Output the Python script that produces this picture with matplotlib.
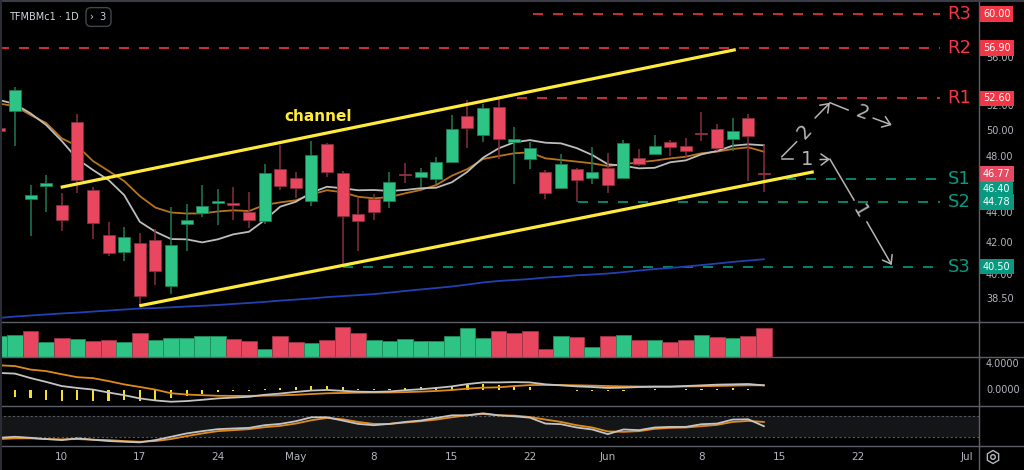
import numpy as np
import matplotlib.pyplot as plt
from matplotlib.lines import Line2D
from matplotlib.patches import RegularPolygon, Circle
from matplotlib.transforms import blended_transform_factory, IdentityTransform

plt.rcParams['font.family'] = ['DejaVu Sans']

# ---- daily candles (index 0 = Apr 5), last candle = Jun 13
opens = [50.26, 51.58, 44.96, 45.90, 44.57, 50.70, 45.64, 42.53, 41.44, 41.99,
         42.21, 39.31, 43.25, 44.04, 44.71, 44.73, 44.08, 43.49, 47.15, 46.45,
         44.87, 49.00, 46.84, 43.97, 45.00, 44.87, 46.73, 46.57, 46.40, 47.63,
         51.18, 49.69, 51.88, 49.15, 47.87, 46.89, 45.74, 47.11, 46.45, 47.22,
         46.50, 47.97, 48.24, 49.17, 48.85, 49.87, 50.16, 49.36, 51.00, 46.80]
highs = [50.31, 53.57, 45.97, 46.69, 45.43, 51.32, 45.85, 43.38, 43.05, 42.65,
         42.93, 44.45, 44.61, 45.97, 45.69, 45.83, 45.50, 47.48, 48.92, 46.89,
         49.23, 49.08, 47.00, 45.03, 45.36, 46.89, 47.59, 47.18, 48.04, 51.26,
         52.47, 52.12, 52.55, 50.29, 49.17, 47.06, 48.24, 47.17, 48.79, 48.30,
         49.30, 48.62, 49.69, 49.30, 49.43, 51.48, 50.52, 51.00, 51.34, 48.92]
lows = [49.92, 48.85, 42.47, 44.10, 42.80, 45.43, 42.25, 41.19, 40.85, 38.10,
        39.35, 38.79, 41.51, 43.76, 43.20, 43.53, 42.98, 43.25, 45.62, 45.03,
        44.47, 46.53, 40.50, 41.49, 43.53, 44.38, 46.14, 45.85, 46.02, 47.55,
        48.72, 49.17, 47.87, 46.04, 47.11, 44.98, 45.70, 44.78, 46.04, 45.38,
        46.45, 47.37, 48.20, 48.12, 48.04, 49.25, 48.47, 48.47, 46.26, 45.50]
closes = [50.00, 53.29, 45.26, 46.14, 43.55, 46.33, 43.33, 41.34, 42.38, 38.70,
          40.22, 41.88, 43.55, 44.50, 44.87, 44.59, 43.53, 46.84, 45.92, 45.74,
          48.15, 46.89, 43.83, 43.49, 44.08, 46.21, 46.66, 46.89, 47.63, 50.16,
          50.21, 51.80, 49.38, 49.36, 48.67, 45.38, 47.48, 46.33, 46.89, 45.97,
          49.05, 47.52, 48.82, 48.75, 48.45, 49.77, 48.72, 50.00, 49.64, 46.77]
volume = [20.7, 21.7, 26.0, 14.7, 18.7, 18.0, 16.0, 16.7, 14.7, 23.4,
          16.7, 19.0, 19.0, 20.4, 20.7, 17.7, 16.0, 7.4, 20.4, 14.7,
          13.7, 16.7, 29.4, 23.4, 16.7, 16.0, 17.4, 15.4, 15.4, 20.7,
          28.7, 19.0, 25.7, 24.0, 25.4, 7.4, 20.7, 20.0, 9.4, 20.7,
          21.7, 16.7, 16.7, 14.7, 16.7, 21.7, 19.4, 18.7, 20.7, 28.7]

ma_fast = [52.47, 52.14, 51.39, 50.47, 49.23, 47.87, 47.06, 46.33, 45.26, 43.42,
           42.75, 42.27, 42.25, 42.05, 42.25, 42.58, 42.75, 43.53, 44.45, 44.79,
           45.43, 45.85, 45.74, 45.60, 45.62, 45.55, 45.62, 45.74, 45.78, 46.17,
           46.93, 47.97, 48.67, 49.13, 49.30, 49.10, 49.05, 48.69, 48.17, 47.48,
           47.37, 47.18, 47.22, 47.63, 47.77, 48.22, 48.47, 48.87, 48.98, 48.90]
ma_slow = [52.17, 51.98, 51.26, 50.63, 49.43, 48.85, 47.72, 46.99, 46.26, 45.19,
           44.39, 44.05, 43.98, 43.99, 44.12, 44.20, 44.15, 44.57, 44.75, 44.89,
           45.31, 45.60, 45.46, 45.14, 45.03, 45.12, 45.38, 45.62, 45.97, 46.64,
           47.13, 47.87, 48.09, 48.30, 48.37, 47.92, 47.80, 47.68, 47.55, 47.35,
           47.48, 47.63, 47.75, 47.92, 48.04, 48.30, 48.42, 48.62, 48.75, 48.42]
ma_200 = [37.39, 37.47, 37.53, 37.59, 37.65, 37.70, 37.76, 37.82, 37.88, 37.94,
          37.97, 38.01, 38.06, 38.10, 38.15, 38.21, 38.27, 38.33, 38.41, 38.47,
          38.54, 38.62, 38.68, 38.74, 38.80, 38.89, 38.99, 39.08, 39.17, 39.26,
          39.38, 39.51, 39.60, 39.66, 39.72, 39.81, 39.87, 39.95, 40.00, 40.06,
          40.15, 40.25, 40.34, 40.41, 40.50, 40.59, 40.69, 40.79, 40.88, 40.96]

macd = [2.60, 2.50, 1.80, 1.20, 0.55, 0.25, 0.00, -0.46, -0.88, -1.38,
        -1.70, -1.90, -1.80, -1.60, -1.38, -1.25, -1.13, -0.82, -0.62, -0.37,
        -0.15, -0.06, -0.20, -0.33, -0.37, -0.30, -0.10, 0.05, 0.25, 0.50,
        0.86, 1.12, 1.12, 1.17, 1.12, 0.82, 0.66, 0.50, 0.40, 0.25,
        0.30, 0.40, 0.45, 0.45, 0.56, 0.66, 0.77, 0.82, 0.87, 0.66]
signal = [3.80, 3.68, 3.13, 2.89, 2.40, 1.94, 1.79, 1.33, 0.81, 0.41,
          -0.01, -0.57, -0.77, -0.88, -0.97, -0.99, -0.98, -0.95, -0.90, -0.82,
          -0.70, -0.58, -0.53, -0.48, -0.46, -0.45, -0.40, -0.32, -0.22, -0.07,
          0.14, 0.30, 0.35, 0.55, 0.70, 0.72, 0.71, 0.67, 0.62, 0.55,
          0.50, 0.48, 0.47, 0.47, 0.49, 0.52, 0.57, 0.62, 0.67, 0.67]
hist = [-1.20, -1.18, -1.33, -1.69, -1.85, -1.69, -1.79, -1.79, -1.69, -1.79,
        -1.69, -1.33, -1.03, -0.72, -0.41, -0.26, -0.15, 0.13, 0.30, 0.36,
        0.50, 0.50, 0.36, 0.15, 0.10, 0.15, 0.30, 0.36, 0.46, 0.56,
        0.72, 0.82, 0.77, 0.55, 0.40, -0.10, -0.05, -0.17, -0.22, -0.30,
        -0.15, -0.06, 0.05, -0.04, 0.06, 0.12, 0.14, 0.17, 0.15, -0.08]

stoch_k = [17.1, 20.0, 17.0, 13.3, 10.4, 15.4, 11.4, 7.5, 5.5, 3.6,
           10.4, 20.0, 29.8, 36.5, 42.3, 44.3, 46.1, 53.9, 57.7, 65.5,
           77.1, 77.1, 67.5, 57.7, 53.9, 57.7, 63.5, 67.5, 75.1, 82.9,
           82.9, 88.7, 82.9, 80.0, 76.1, 58.7, 56.8, 47.2, 41.4, 27.8,
           41.4, 39.4, 47.2, 49.0, 49.0, 56.8, 58.7, 70.4, 71.3, 51.0]
stoch_d = [13.3, 15.4, 15.4, 13.3, 12.4, 13.3, 11.4, 10.4, 7.5, 5.5,
           7.5, 13.3, 22.0, 29.8, 36.5, 39.4, 42.3, 48.1, 51.9, 58.7,
           68.4, 75.1, 71.3, 63.5, 57.7, 57.7, 61.6, 65.5, 70.4, 77.1,
           82.9, 86.7, 82.9, 82.0, 78.0, 70.4, 63.5, 53.9, 47.2, 35.6,
           34.5, 36.5, 43.2, 46.1, 47.2, 51.0, 54.8, 63.5, 66.4, 63.5]

levels = {'R3': 60.00, 'R2': 56.90, 'R1': 52.60, 'S1': 46.40, 'S2': 44.78, 'S3': 40.50}
level_start = {'R3': 33.2, 'R2': -1.0, 'R1': 32.2, 'S1': 49.4, 'S2': 36.1, 'S3': 21.0}
price_ticks = [56, 52, 50, 48, 44, 42, 40, 38.5]
date_pos = [3, 8, 13, 18, 23, 28, 33, 38, 44, 49, 54, 61]
date_labels = ['10', '17', '24', 'May', '8', '15', '22', 'Jun', '8', '15', '22', 'Jul']

# channel drawn between (index, price) points
chan_upper = [(2.93, 45.81), (46.2, 56.75)]
chan_lower = [(7.97, 38.10), (51.2, 46.93)]

idx = np.arange(-1, len(opens) - 1)
o, h, l, c = map(np.array, (opens, highs, lows, closes))
up = c >= o

GREEN, RED = '#2ec486', '#e9465f'
GREEN_D, RED_D = '#1d7a55', '#86303f'
TEAL, LRED = '#089981', '#f23645'
YELLOW = '#ffeb3b'
GRID = '#5d606b'
TXT = '#b2b5be'

W, H = 1024, 470
XR = 979
fig = plt.figure(figsize=(W / 100, H / 100), dpi=100, facecolor='black')


def pane(top, bottom):
    a = fig.add_axes([0, 1 - bottom / H, XR / W, (bottom - top) / H])
    a.set_facecolor('black')
    a.set_xlim(-0.96, 61.79)
    for s in a.spines.values():
        s.set_visible(False)
    a.set_xticks([])
    a.set_yticks([])
    return a


ax = pane(0, 321.7)
axv = pane(322.5, 356.7)
axm = pane(357.5, 406)
axs = pane(406.5, 446)

# ---------------- price pane
ax.set_yscale('log')
ax.set_ylim(37.17, 61.30)
ax.set_yticks([])
ax.set_yticks([], minor=True)

for name, val in levels.items():
    col = LRED if name[0] == 'R' else TEAL
    ax.hlines(val, level_start[name], 59.3, colors=col, lw=1.2,
              linestyles=(0, (6, 6)), zorder=1)
    ax.text(60.5, val, name, color=col, fontsize=13, ha='center', va='center')

ax.plot(idx, ma_200, color='#2340b0', lw=1.3, zorder=2)
ax.plot(idx, ma_slow, color='#b8741a', lw=1.3, zorder=2)
ax.plot(idx, ma_fast, color='#bdbdbd', lw=1.3, zorder=2)

ax.vlines(idx, l, h, colors=np.where(up, GREEN_D, RED_D), lw=1.1, zorder=3)
body_lo = np.minimum(o, c)
body_h = np.maximum(np.abs(c - o), 0.09)
ax.bar(idx, body_h, bottom=body_lo, width=0.77, color=np.where(up, GREEN, RED),
       edgecolor=np.where(up, GREEN_D, RED_D), lw=0.6, zorder=4)

for seg in (chan_upper, chan_lower):
    xs, ys = zip(*seg)
    ax.plot(xs, ys, color=YELLOW, lw=2.3, solid_capstyle='butt', zorder=5)
ax.text(19.4, 51.18, 'channel', color=YELLOW, fontsize=11, fontweight='bold',
        ha='center', va='center', zorder=6)

# hand drawn scenarios
ANN = '#b5b5b5'
arw = dict(arrowstyle='->,head_length=0.55,head_width=0.4', color=ANN, lw=1.1,
           shrinkA=0, shrinkB=0)
ax.plot([49.15, 50.1], [48.04, 49.17], color=ANN, lw=1.1)
ax.text(50.64, 49.95, '2', color=ANN, fontsize=14, rotation=48, ha='center', va='center')
ax.annotate('', xy=(52.24, 52.25), xytext=(51.28, 51.02), arrowprops=arw)
ax.plot([52.24, 53.4], [52.25, 51.66], color=ANN, lw=1.1)
ax.text(54.28, 51.39, '2', color=ANN, fontsize=14, rotation=-20, ha='center', va='center')
ax.annotate('', xy=(56.2, 50.47), xytext=(55.0, 51.02), arrowprops=arw)
ax.plot([49.15, 49.87], [47.85, 47.85], color=ANN, lw=1.1)
ax.text(50.75, 47.80, '1', color=ANN, fontsize=14, ha='center', va='center')
ax.annotate('', xy=(52.24, 47.85), xytext=(51.6, 47.83), arrowprops=arw)
ax.plot([52.24, 53.78], [47.85, 44.91], color=ANN, lw=1.1)
ax.text(54.17, 44.10, '1', color=ANN, fontsize=14, rotation=-60, ha='center', va='center')
ax.annotate('', xy=(56.2, 40.59), xytext=(54.6, 43.42), arrowprops=arw)

# right price scale
T = blended_transform_factory(ax.transAxes, ax.transData)
for p in price_ticks:
    ax.text(986 / XR, p, f'{p:.2f}', transform=T, color=TXT, fontsize=7,
            ha='left', va='center', zorder=7)


def tag(val, col, dy=0):
    ax.annotate(f'{val:.2f}', xy=(983 / XR, val), xycoords=T, xytext=(0, dy),
                textcoords='offset points', color='white', fontsize=7,
                ha='left', va='center', zorder=9, annotation_clip=False,
                bbox=dict(boxstyle='square,pad=0.3', fc=col, ec='none'))


for name in ('R3', 'R2', 'R1'):
    tag(levels[name], LRED)
tag(levels['S3'], TEAL)
tag(levels['S2'], TEAL)
tag(levels['S1'], TEAL, dy=-6.8)
tag(closes[-1], '#e54a62')

# ---------------- volume pane
prev = np.concatenate([[c[0] - 1], c[:-1]])
vup = c >= prev
axv.bar(idx, volume, width=1.0, color=np.where(vup, GREEN, RED),
        edgecolor=np.where(vup, '#1f8a5c', '#9c3347'), lw=0.6)
axv.set_ylim(0, 34.2)

# ---------------- MACD pane
axm.set_ylim(-2.57, 5.02)
axm.bar(idx, hist, width=0.14, color='#f5e027')
axm.plot(idx, signal, color='#e08a1e', lw=1.3)
axm.plot(idx, macd, color='#c4c4c4', lw=1.3)
Tm = blended_transform_factory(axm.transAxes, axm.transData)
for v in (4, 0):
    axm.text(986 / XR, v, f'{v:.4f}', transform=Tm, color=TXT, fontsize=7,
             ha='left', va='center')

# ---------------- stochastic pane
axs.set_ylim(-7, 108.7)
axs.axhspan(20, 80, color='#141517', lw=0)
axs.hlines([20, 80], -1, 62, colors='#555861', lw=0.8, linestyles=(0, (2, 2)))
axs.plot(idx, stoch_d, color='#e08a1e', lw=1.3)
axs.plot(idx, stoch_k, color='#c4c4c4', lw=1.3)

# ---------------- dates, frame, header
Td = blended_transform_factory(axs.transData, fig.transFigure)
for x, lab in zip(date_pos, date_labels):
    axs.text(x, 1 - 457 / H, lab, transform=Td, color=TXT, fontsize=7.5,
             ha='center', va='center', clip_on=False)

for y in (321.7, 356.9, 406.2, 446.3):
    fig.add_artist(Line2D([0, 1], [1 - y / H] * 2, transform=fig.transFigure,
                          color=GRID, lw=1))
fig.add_artist(Line2D([XR / W] * 2, [0, 1], transform=fig.transFigure, color=GRID, lw=1))
fig.add_artist(Line2D([0, 1], [1 - 1 / H] * 2, transform=fig.transFigure, color='#3a3d45', lw=1.5))
fig.add_artist(Line2D([1 / W] * 2, [0, 1], transform=fig.transFigure, color='#2a2d35', lw=1.5))

fig.text(9 / W, 1 - 17 / H, 'TFMBMc1 · 1D', color='#d1d4dc', fontsize=7,
         ha='left', va='center')
fig.text(98.5 / W, 1 - 17 / H, '›  3', color='#d1d4dc', fontsize=7, ha='center', va='center',
         bbox=dict(boxstyle='round,pad=0.45,rounding_size=0.5', fc='black', ec='#434651', lw=1))

fig.add_artist(RegularPolygon((993, 13), 6, radius=6.5, orientation=0, fill=False,
                              ec=TXT, lw=1, transform=IdentityTransform()))
fig.add_artist(Circle((993, 13), 2.3, fill=False, ec=TXT, lw=1, transform=IdentityTransform()))

fig.savefig('out.png', dpi=100, facecolor='black')
